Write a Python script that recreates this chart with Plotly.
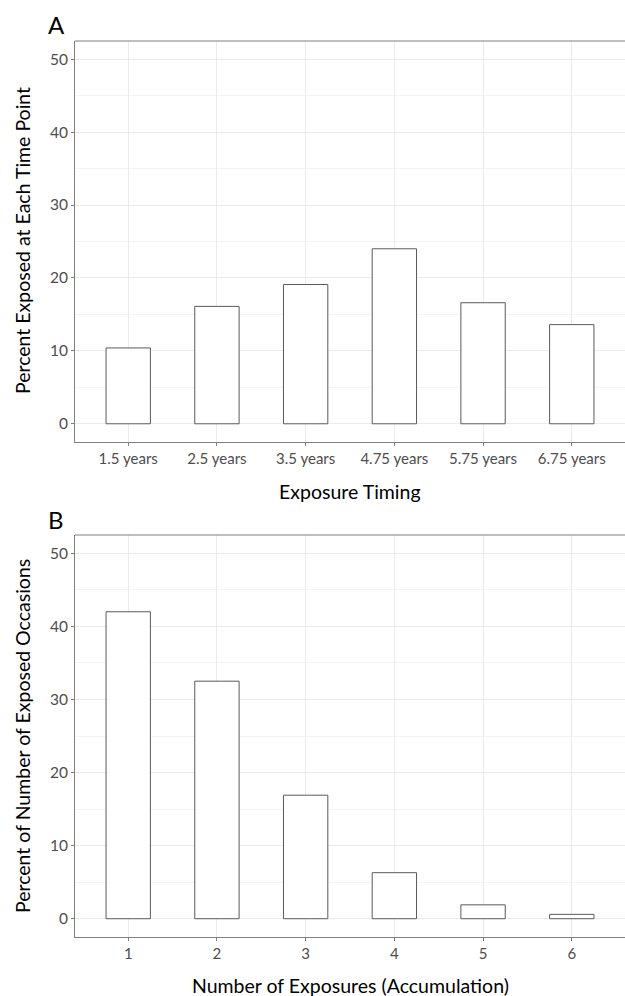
import plotly.graph_objects as go

timing_labels = ["1.5 years", "2.5 years", "3.5 years", "4.75 years", "5.75 years", "6.75 years"]
timing_values = [10.4, 16.1, 19.1, 24.0, 16.6, 13.6]

accum_labels = ["1", "2", "3", "4", "5", "6"]
accum_values = [42.0, 32.5, 16.9, 6.3, 1.9, 0.6]

y_ticks = [0, 10, 20, 30, 40, 50]

W, H = 625, 996
FONT = "Lato"
TICKCOL = "#4d4d4d"
AXCOL = "#7f7f7f"

def py(px):
    return 1 - px / H

fig = go.Figure()
fig.add_trace(go.Bar(x=timing_labels, y=timing_values, width=0.5,
                     marker=dict(color="white", line=dict(color="#5a5a5a", width=1)),
                     xaxis="x", yaxis="y", showlegend=False))
fig.add_trace(go.Bar(x=accum_labels, y=accum_values, width=0.5,
                     marker=dict(color="white", line=dict(color="#5a5a5a", width=1)),
                     xaxis="x2", yaxis="y2", showlegend=False))

xcommon = dict(type="category", range=[-0.6, 5.6], showline=True, linecolor=AXCOL, linewidth=1,
               mirror=False, ticks="outside", ticklen=3, tickcolor=AXCOL,
               showgrid=True, gridcolor="#ebebeb", gridwidth=1, zeroline=False,
               tickfont=dict(family=FONT, size=15, color=TICKCOL), fixedrange=True)
ycommon = dict(range=[-2.5, 52.5], tickvals=y_ticks, showline=True, linecolor=AXCOL, linewidth=1,
               ticks="outside", ticklen=3, tickcolor=AXCOL,
               showgrid=True, gridcolor="#ebebeb", gridwidth=1, zeroline=False,
               minor=dict(dtick=5, tick0=5, showgrid=True, gridcolor="#f4f4f4", ticks=""),
               tickfont=dict(family=FONT, size=15.5, color=TICKCOL), fixedrange=True)

fig.update_layout(
    width=W, height=H,
    margin=dict(l=0, r=0, t=0, b=0),
    paper_bgcolor="white", plot_bgcolor="white",
    xaxis=dict(**xcommon, domain=[75 / W, 1], anchor="y"),
    yaxis=dict(**ycommon, domain=[py(442), py(41)], anchor="x"),
    xaxis2=dict(**xcommon, domain=[75 / W, 1], anchor="y2"),
    yaxis2=dict(**ycommon, domain=[py(937), py(535)], anchor="x2"),
    bargap=0.5,
)

# top border lines of panels
for y0 in (41, 535):
    fig.add_shape(type="line", xref="paper", yref="paper", x0=75 / W, x1=1, y0=py(y0), y1=py(y0),
                  line=dict(color=AXCOL, width=1))

TS = 19.5
ann = [
    dict(text="A", x=56 / W, y=py(25), font=dict(size=24, color="black", family=FONT)),
    dict(text="B", x=56 / W, y=py(519), font=dict(size=24, color="black", family=FONT)),
    dict(text="Exposure Timing", x=350 / W, y=py(492), font=dict(size=TS, color="black", family=FONT)),
    dict(text="Number of Exposures (Accumulation)", x=350 / W, y=py(985), font=dict(size=TS, color="black", family=FONT)),
    dict(text="Percent Exposed at Each Time Point", x=22 / W, y=py(241), textangle=-90,
         font=dict(size=TS, color="black", family=FONT)),
    dict(text="Percent of Number of Exposed Occasions", x=22 / W, y=py(736), textangle=-90,
         font=dict(size=TS, color="black", family=FONT)),
]
for a in ann:
    fig.add_annotation(xref="paper", yref="paper", showarrow=False, xanchor="center", yanchor="middle", **a)

fig.write_html("out.html")
